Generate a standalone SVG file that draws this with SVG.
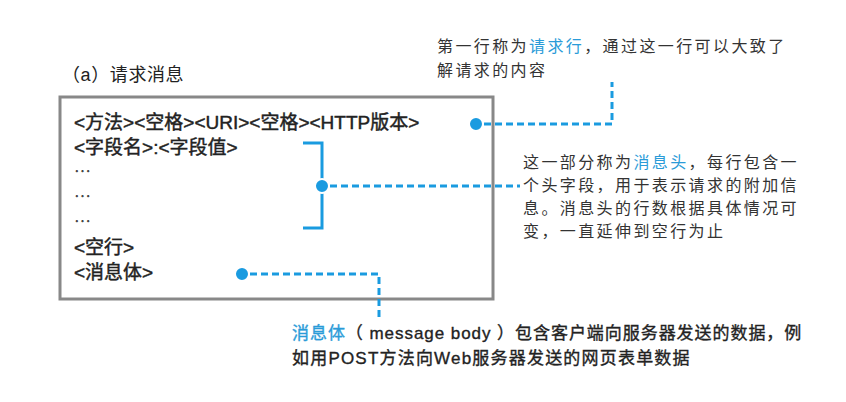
<svg xmlns="http://www.w3.org/2000/svg" width="846" height="402" viewBox="0 0 846 402">
<style>
.t{font-family:"Liberation Sans","Noto Sans CJK SC",sans-serif;fill:#222;}
.box{font-size:19px;stroke:#222;stroke-width:0.45;}
.ell{font-family:"Noto Sans CJK SC",sans-serif;font-size:17px;fill:#444;}
.note{font-size:16px;fill:#333;letter-spacing:2.4px;}
.body{font-size:17px;letter-spacing:1.2px;stroke:#222;stroke-width:0.35;}
.body1{letter-spacing:0.95px;}
.bl{fill:#2a9bd8;stroke:#2a9bd8;}
.note .bl{stroke:none;}
.dash{fill:none;stroke:#1a9be0;stroke-width:3;stroke-dasharray:7 4;}
.dot{fill:#1a9be0;stroke:#fff;stroke-width:2;}
</style>
<rect width="846" height="402" fill="#fff"/>
<g id="title"><text class="t" x="62" y="81" font-size="18" letter-spacing="0.6">（a）请求消息</text></g>
<g id="message">
<rect x="60" y="97" width="433" height="202" fill="#fff" stroke="#888" stroke-width="3"/>
<text class="t box" x="74" y="129">&lt;方法&gt;&lt;空格&gt;&lt;URI&gt;&lt;空格&gt;&lt;HTTP版本&gt;</text>
<text class="t box" x="74" y="154">&lt;字段名&gt;:&lt;字段值&gt;</text>
<text class="ell" x="74" y="178">…</text>
<text class="ell" x="74" y="203">…</text>
<text class="ell" x="74" y="228">…</text>
<text class="t box" x="74" y="254">&lt;空行&gt;</text>
<text class="t box" x="74" y="279">&lt;消息体&gt;</text>
</g>
<g id="connectors">
<path class="dash" d="M484 124 H612 V82"/>
<path d="M303 143 H322 V228 H303" fill="none" stroke="#1a9be0" stroke-width="3"/>
<path class="dash" d="M330 186 H520"/>
<path class="dash" d="M250 274 H379 V318"/>
<circle class="dot" cx="476" cy="124" r="7"/>
<circle class="dot" cx="322" cy="186" r="7"/>
<circle class="dot" cx="242" cy="274" r="7"/>
</g>
<g id="note-request-line">
<text class="t note" x="437" y="52">第一行称为<tspan class="bl">请求行</tspan>，通过这一行可以大致了</text>
<text class="t note" x="437" y="76">解请求的内容</text>
</g>
<g id="note-header">
<text class="t note" x="523" y="168">这一部分称为<tspan class="bl">消息头</tspan>，每行包含一</text>
<text class="t note" x="523" y="191">个头字段，用于表示请求的附加信</text>
<text class="t note" x="523" y="214">息。消息头的行数根据具体情况可</text>
<text class="t note" x="523" y="237">变，一直延伸到空行为止</text>
</g>
<g id="note-body">
<text class="t body body1" x="292" y="339"><tspan class="bl">消息体</tspan>（ message body ）包含客户端向服务器发送的数据，例</text>
<text class="t body" x="292" y="364">如用POST方法向Web服务器发送的网页表单数据</text>
</g>
</svg>
